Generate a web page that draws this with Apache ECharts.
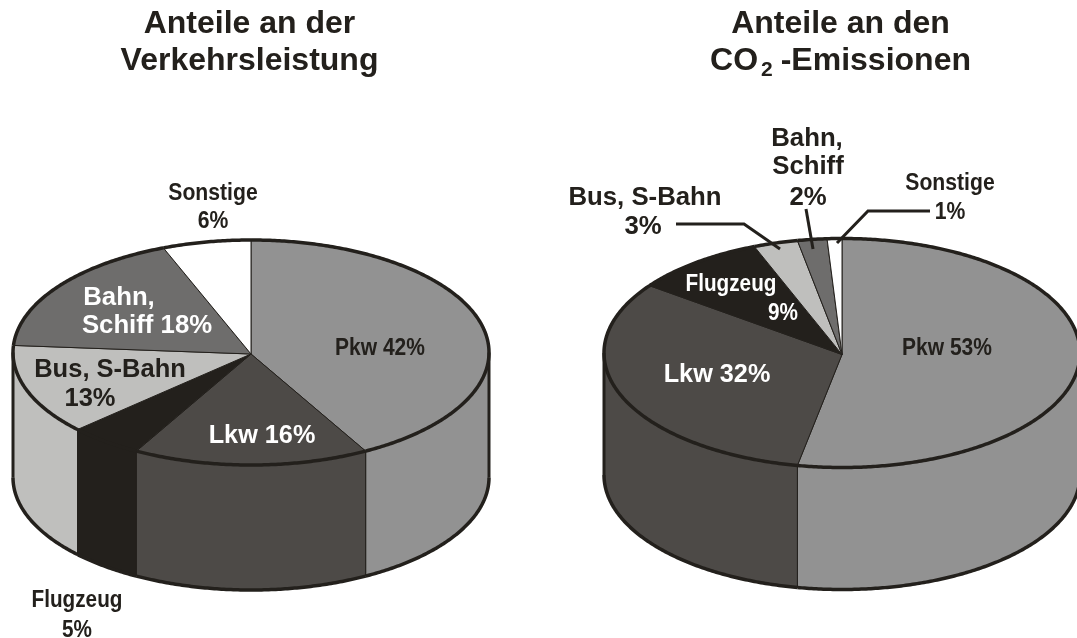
<!DOCTYPE html>
<html><head><meta charset="utf-8">
<style>html,body{margin:0;padding:0;background:#fff}#c{width:1077px;height:638px}</style>
<script src="https://cdn.jsdelivr.net/npm/echarts@6/dist/echarts.min.js"></script>
</head><body><div id="c"></div>
<script>
// ---- data ----
const categories = ['Pkw', 'Lkw', 'Flugzeug', 'Bus, S-Bahn', 'Bahn, Schiff', 'Sonstige'];
const trafficShares = [42, 16, 5, 13, 18, 6];
const co2Shares = [53, 32, 9, 3, 2, 1];
const sliceColors = ['#929292', '#4d4a47', '#23201c', '#bfbfbd', '#6e6d6c', '#ffffff'];
// ---- layout ----
const INK = '#23201c';
const pieLeft = { cx: 251, cy: 352.5, rx: 238, ry: 112.5, depth: 125 };
const pieRight = { cx: 842, cy: 353, rx: 238, ry: 114.5, depth: 122 };
// [text, centre x, centre y, size, colour, horizontal scale]
const labels = [
  ['Sonstige', 213, 193.5, 23, INK, .92], ['6%', 213, 221.5, 23, INK, .92],
  ['Pkw 42%', 380, 348.5, 24, INK, .875],
  ['Lkw 16%', 262, 436.5, 25, '#fff', 1.01],
  ['Bahn,', 119, 298.5, 25, '#fff', 1.03], ['Schiff 18%', 147, 326.5, 25, '#fff', 1.03],
  ['Bus, S-Bahn', 110, 370.5, 25, INK, 1.02], ['13%', 90, 399.5, 25, INK, 1.02],
  ['Flugzeug', 77, 600.5, 23, INK, .9], ['5%', 77, 630.5, 23, INK, .9],
  ['Bus, S-Bahn', 645, 198.5, 25, INK, 1.03], ['3%', 643, 227.5, 25, INK, 1.03],
  ['Bahn,', 807, 139.5, 25, INK, 1.03], ['Schiff', 808, 167.5, 25, INK, 1.03], ['2%', 808, 198.5, 25, INK, 1.03],
  ['Sonstige', 950, 183.5, 23, INK, .92], ['1%', 950, 212.5, 23, INK, .92],
  ['Flugzeug', 731, 284.5, 23, '#fff', .9], ['9%', 783, 313.5, 23, '#fff', .9],
  ['Pkw 53%', 947, 348.5, 24, INK, .875],
  ['Lkw 32%', 717, 375.5, 25, '#fff', 1.01]
];
const leaders = [
  [[676, 224], [744, 224], [780, 249]],
  [[806, 209], [813, 249]],
  [[930, 211], [868, 211], [837, 243]]
];

function pieSeries(values, g) {
  const total = values.reduce((a, b) => a + b, 0);
  const pt = (t, dy) => [g.cx + g.rx * Math.sin(t), g.cy - g.ry * Math.cos(t) + (dy || 0)];
  const arc = (a, b, dy) => {
    const n = Math.max(2, Math.ceil((b - a) / 0.01)), out = [];
    for (let i = 0; i <= n; i++) out.push(pt(a + (b - a) * i / n, dy));
    return out;
  };
  const front0 = Math.PI / 2, front1 = Math.PI * 1.5;
  return {
    type: 'custom',
    coordinateSystem: 'none',
    silent: true,
    animation: false,
    data: values.map((v, i) => ({ name: categories[i], value: v })),
    renderItem(params, api) {
      const i = params.dataIndex;
      let before = 0;
      for (let k = 0; k < i; k++) before += values[k];
      const a = before / total * Math.PI * 2;
      const b = (before + api.value(0)) / total * Math.PI * 2;
      const fill = sliceColors[i];
      const kids = [];
      const thin = { stroke: INK, lineWidth: 1, lineJoin: 'round' };
      const fa = Math.max(a, front0), fb = Math.min(b, front1);
      if (fb > fa) {
        const top = arc(fa, fb), bot = arc(fa, fb, g.depth).reverse();
        kids.push({ type: 'polygon', z2: 1, shape: { points: top.concat(bot) }, style: { fill, ...thin } });
        kids.push({ type: 'polyline', z2: 5, shape: { points: arc(fa, fb, g.depth) },
          style: { fill: 'none', stroke: INK, lineWidth: 3.5 } });
      }
      [front0, front1].forEach(t => {
        if (t >= a && t <= b) {
          kids.push({ type: 'line', z2: 5, shape: { x1: pt(t)[0], y1: pt(t)[1], x2: pt(t, g.depth)[0], y2: pt(t, g.depth)[1] },
            style: { stroke: INK, lineWidth: 3 } });
        }
      });
      kids.push({ type: 'polygon', z2: 2, shape: { points: [[g.cx, g.cy + 1.5]].concat(arc(a, b)) }, style: { fill, ...thin } });
      kids.push({ type: 'polyline', z2: 6, shape: { points: arc(a, b) },
        style: { fill: 'none', stroke: INK, lineWidth: 3.5 } });
      return { type: 'group', children: kids };
    }
  };
}

const chart = echarts.init(document.getElementById('c'), null, { renderer: 'canvas' });
const titleStyle = { fontFamily: 'Liberation Sans', fontWeight: 'bold', fontSize: 32, color: INK, lineHeight: 37 };
chart.setOption({
  backgroundColor: '#fff',
  animation: false,
  title: [
    { text: 'Anteile an der\nVerkehrsleistung', left: 249.5, top: 6, textAlign: 'center', padding: 0, textStyle: titleStyle },
    { text: '{b|Anteile an den}\n{b|CO}{s|2}{b|-Emissionen}', left: 840.5, top: 6, textAlign: 'center', padding: 0,
      textStyle: { ...titleStyle, rich: {
        b: { fontFamily: 'Liberation Sans', fontWeight: 'bold', fontSize: 32, color: INK, lineHeight: 37 },
        s: { fontFamily: 'Liberation Sans', fontWeight: 'bold', fontSize: 21, color: INK, lineHeight: 20, padding: [17, 8, 0, 3], verticalAlign: 'top' }
      } } }
  ],
  series: [pieSeries(trafficShares, pieLeft), pieSeries(co2Shares, pieRight)],
  graphic: { elements: [
    ...leaders.map(points => ({ type: 'polyline', z: 20, silent: true, shape: { points },
      style: { fill: 'none', stroke: INK, lineWidth: 3 } })),
    ...labels.map(([text, x, y, size, fill, sx]) => ({
      type: 'text', z: 21, silent: true, x, y, scaleX: sx,
      style: { text, x: 0, y: 0, fill, align: 'center', verticalAlign: 'middle',
        font: `bold ${size}px "Liberation Sans"` }
    }))
  ] }
});
</script></body></html>
